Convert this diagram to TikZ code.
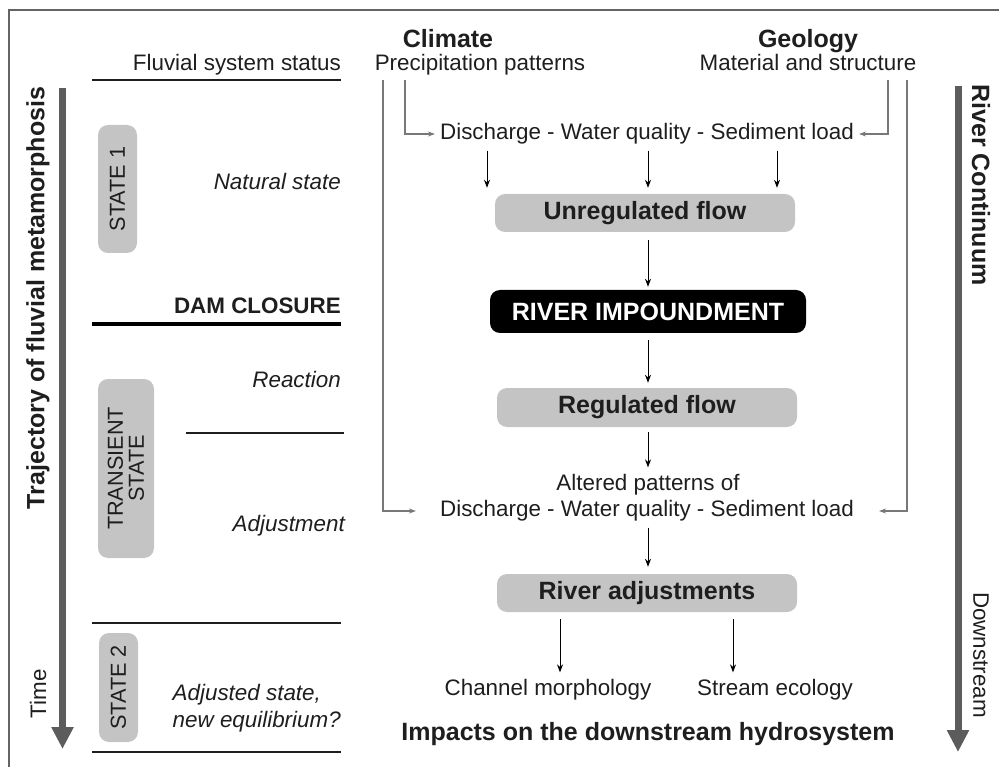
\documentclass[tikz,border=0pt]{standalone}
\usepackage{fontspec}
\setmainfont{Liberation Sans}
\usetikzlibrary{arrows.meta}
\definecolor{boxgray}{RGB}{196,196,196}
\definecolor{bargray}{RGB}{92,92,92}
\definecolor{linegray}{RGB}{120,120,120}
\definecolor{txtdark}{RGB}{30,30,30}
\definecolor{framegray}{RGB}{100,100,100}
\begin{document}
\begin{tikzpicture}[x=1pt,y=-1pt,
  every node/.style={inner sep=5pt, text=txtdark},
  regtxt/.style={font=\fontsize{22.4}{27}\selectfont},
  itxt/.style={font=\fontsize{22.4}{27}\selectfont\itshape},
  btxt/.style={font=\fontsize{25}{30}\selectfont\bfseries},
  flowbox/.style={fill=boxgray, rounded corners=10pt, minimum width=300pt, minimum height=38pt, inner sep=0pt, font=\fontsize{25}{30}\selectfont\bfseries},
  statebox/.style={fill=boxgray, rounded corners=10pt, font=\fontsize{21.7}{24}\selectfont, align=center, inner sep=0pt},
  arr/.style={-{Stealth[length=8pt,width=6pt]}, line width=1pt, black},
  garr/.style={-{Stealth[length=7pt,width=5pt]}, line width=1.3pt, linegray},
  bigarr/.style={line width=7pt, bargray, -{Triangle[length=22pt,width=21pt]}},
  sepline/.style={line width=1.5pt, txtdark},
]
\useasboundingbox (0,0) rectangle (999,767);
% frame
\draw[framegray, line width=2pt] (8.5,767) -- (8.5,10.5) -- (999,10.5);

% big side arrows
\coordinate (lt) at (62.5,88);
\coordinate (lb) at (62.5,749);
\draw[bigarr] (lt) -- (lb);
\coordinate (rt) at (958,86);
\coordinate (rb) at (958,752);
\draw[bigarr] (rt) -- (rb);

\node[btxt, rotate=90] (traj) at (38,298) {Trajectory of fluvial metamorphosis};
\node[regtxt, rotate=90] (time) at (38,694) {Time};
\node[btxt, rotate=-90] (rcont) at (981,185) {River Continuum};
\node[regtxt, rotate=-90] (down) at (981,655) {Downstream};

% left column
\node[regtxt, anchor=base east] (fss) at (346,71) {Fluvial system status};
\coordinate (s0a) at (92,80); \coordinate (s0b) at (341,80);
\draw[sepline] (s0a) -- (s0b);
\node[statebox, rotate=90, minimum width=128pt, minimum height=39pt] (st1) at (117.5,189) {STATE 1};
\node[itxt, anchor=east] (nat) at (346,181) {Natural state};
\node[btxt, font=\fontsize{22.4}{27}\selectfont\bfseries, anchor=east] (dam) at (346,306) {DAM CLOSURE};
\coordinate (s1a) at (92,324); \coordinate (s1b) at (341,324);
\draw[line width=4pt, black] (s1a) -- (s1b);
\node[itxt, anchor=east] (react) at (346,379) {Reaction};
\coordinate (s2a) at (186,433); \coordinate (s2b) at (344,433);
\draw[sepline] (s2a) -- (s2b);
\node[statebox, rotate=90, minimum width=179pt, minimum height=56pt] (trs) at (126,468.5) {TRANSIENT\\[-3pt]STATE};
\node[itxt, anchor=east] (adjt) at (350,526) {Adjustment};
\coordinate (s3a) at (92,623); \coordinate (s3b) at (341,623);
\draw[sepline] (s3a) -- (s3b);
\node[statebox, rotate=90, minimum width=109pt, minimum height=39pt] (st2) at (118.5,687.5) {STATE 2};
\node[itxt, anchor=east, align=left] (adjs) at (346,708) {Adjusted state,\\new equilibrium?};
\coordinate (s4a) at (92,752); \coordinate (s4b) at (341,752);
\draw[sepline] (s4a) -- (s4b);

% top drivers
\node[btxt, anchor=base] (clim) at (448,48) {Climate};
\node[regtxt, anchor=base] (prec) at (480,71) {Precipitation patterns};
\node[btxt, anchor=base] (geol) at (808,48) {Geology};
\node[regtxt, anchor=base] (mat) at (808,71) {Material and structure};

% flow chain
\node[regtxt] (disc1) at (647,134) {Discharge - Water quality - Sediment load};
\node[flowbox] (unreg) at (645,213) {Unregulated flow};
\node[rounded corners=10pt, fill=black, minimum width=316pt, minimum height=43pt, inner sep=0pt, text=white, font=\fontsize{25}{30}\selectfont\bfseries] (imp) at (648,311.5) {RIVER IMPOUNDMENT};
\node[flowbox, minimum height=39pt] (regf) at (647,407.5) {Regulated flow};
\node[regtxt] (alt1) at (648,485) {Altered patterns of};
\node[regtxt] (disc2) at (647,511) {Discharge - Water quality - Sediment load};
\node[flowbox] (radj) at (647,593) {River adjustments};
\node[regtxt] (chan) at (548,690) {Channel morphology};
\node[regtxt] (eco) at (775,690) {Stream ecology};
\node[btxt] (imp2) at (648,734) {Impacts on the downstream hydrosystem};

% gray feeder lines
\coordinate (gl0) at (383,80);
\coordinate (gl1) at (405,80);
\coordinate (gr1) at (888,80);
\coordinate (gr0) at (907,80);
\draw[garr] (gl1) |- (disc1.west);
\draw[garr] (gr1) |- (disc1.east);
\draw[garr] (gl0) |- ([xshift=-19pt]disc2.west);
\draw[garr] (gr0) |- ([xshift=20pt]disc2.east);

% black arrows
\coordinate (xa) at (487,0); \coordinate (xb) at (648,0); \coordinate (xc) at (777,0);
\draw[arr, shorten <=1pt, shorten >=6pt] (disc1.south -| xa) -- (unreg.north -| xa);
\draw[arr, shorten <=1pt, shorten >=6pt] (disc1.south -| xb) -- (unreg.north -| xb);
\draw[arr, shorten <=1pt, shorten >=6pt] (disc1.south -| xc) -- (unreg.north -| xc);
\draw[arr, shorten <=8pt, shorten >=3pt] (unreg.south -| xb) -- (imp.north -| xb);
\draw[arr, shorten <=7pt, shorten >=5pt] (imp.south -| xb) -- (regf.north -| xb);
\draw[arr, shorten <=5pt, shorten >=2pt] (regf.south -| xb) -- (alt1.north -| xb);
\draw[arr, shorten <=1pt, shorten >=7pt] (disc2.south -| xb) -- (radj.north -| xb);
\coordinate (xd) at (560,0); \coordinate (xe) at (733,0);
\draw[arr, shorten <=7pt, shorten >=2pt] (radj.south -| xd) -- (chan.north -| xd);
\draw[arr, shorten <=7pt, shorten >=2pt] (radj.south -| xe) -- (eco.north -| xe);
\end{tikzpicture}
\end{document}
